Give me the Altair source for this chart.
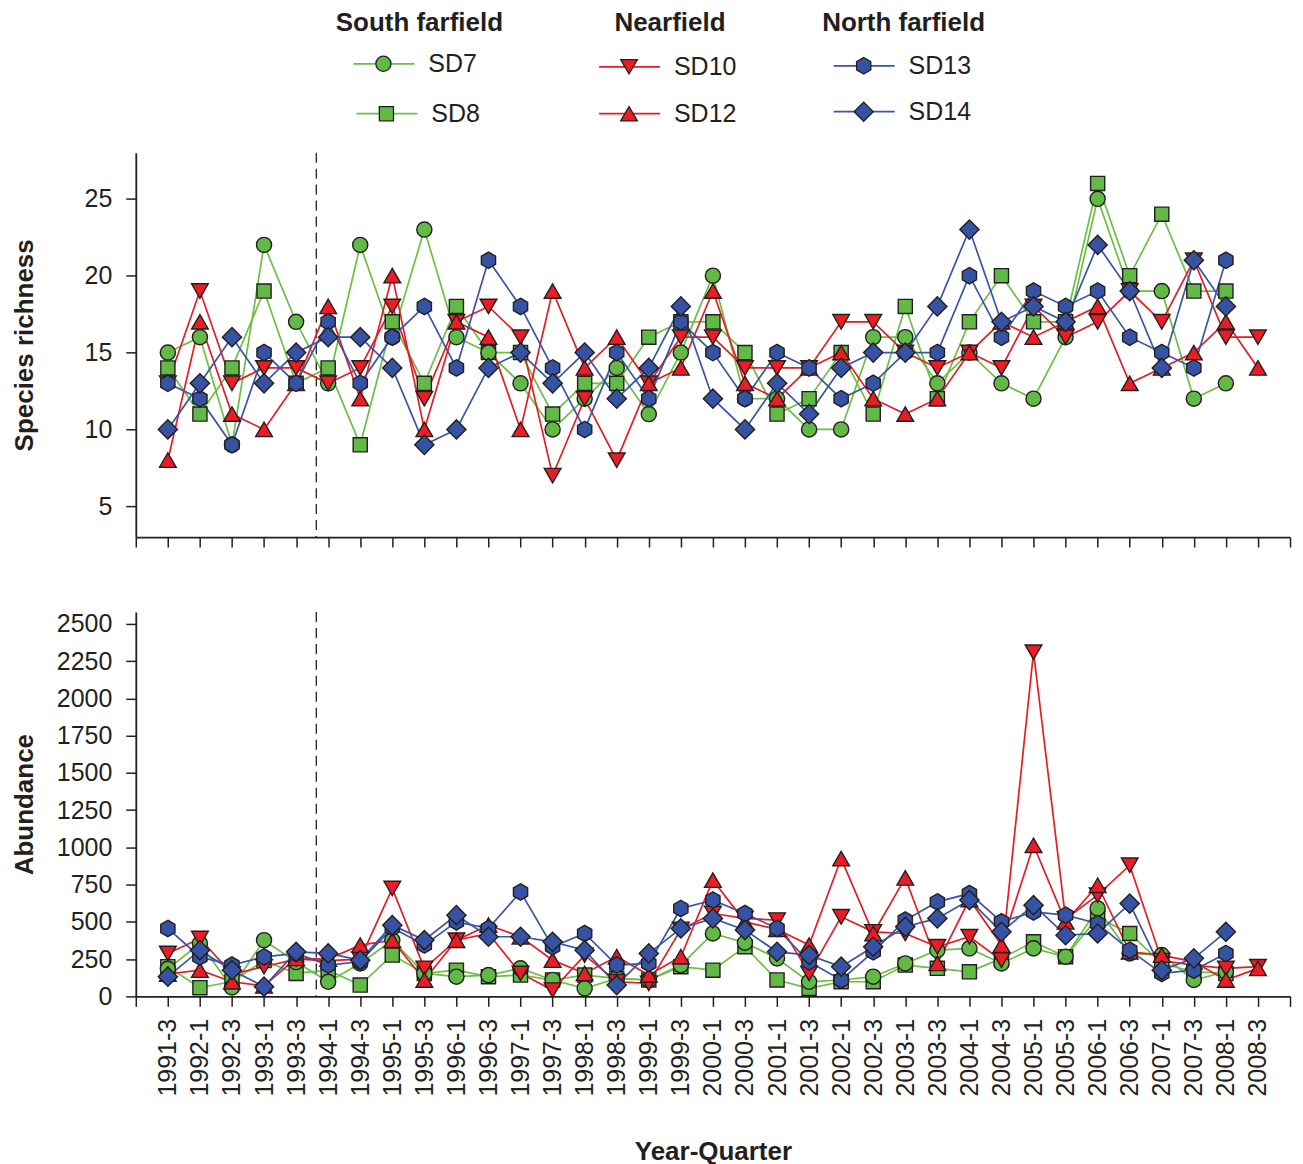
import json
import altair as alt
import pandas as pd

# ---------------- data ----------------
quarters = ["1991-3", "1992-1", "1992-3", "1993-1", "1993-3", "1994-1", "1994-3",
            "1995-1", "1995-3", "1996-1", "1996-3", "1997-1", "1997-3", "1998-1",
            "1998-3", "1999-1", "1999-3", "2000-1", "2000-3", "2001-1", "2001-3",
            "2002-1", "2002-3", "2003-1", "2003-3", "2004-1", "2004-3", "2005-1",
            "2005-3", "2006-1", "2006-3", "2007-1", "2007-3", "2008-1", "2008-3"]

series = ["SD7", "SD8", "SD10", "SD12", "SD13", "SD14"]
groups = ["South farfield", "Nearfield", "North farfield"]
series_group = [0, 0, 1, 1, 2, 2]
series_row = [0, 1, 0, 1, 0, 1]

rich_SD7 = [15, 16, 9, 22, 17, 13, 22, 16, 23, 16, 15, 13, 10, 12, 14, 11, 15, 20, 12, 12,
            10, 10, 16, 16, 13, 15, 13, 12, 16, 25, 19, 19, 12, 13, None]
rich_SD8 = [14, 11, 14, 19, 13, 14, 9, 17, 13, 18, 15, 15, 11, 13, 13, 16, 17, 17, 15, 11,
            12, 15, 11, 18, 12, 17, 20, 17, 17, 26, 20, 24, 19, 19, None]
rich_SD10 = [13, 19, 13, 14, 14, 13, 14, 18, 12, 17, 18, 16, 7, 12, 8, 13, 16, 16, 14, 14,
             14, 17, 17, 15, 14, 15, 14, 18, 16, 17, 19, 17, 21, 16, 16]
rich_SD12 = [8, 17, 11, 10, 13, 18, 12, 20, 10, 17, 16, 10, 19, 14, 16, 13, 14, 19, 13, 12,
             14, 15, 12, 11, 12, 15, 17, 16, 17, 18, 13, 14, 15, 17, 14]
rich_SD13 = [13, 12, 9, 15, 13, 17, 13, 16, 18, 14, 21, 18, 14, 10, 15, 12, 17, 15, 12, 15,
             14, 12, 13, 15, 15, 20, 16, 19, 18, 19, 16, 15, 14, 21, None]
rich_SD14 = [10, 13, 16, 13, 15, 16, 16, 14, 9, 10, 14, 15, 13, 15, 12, 14, 18, 12, 10, 13,
             11, 14, 15, 15, 18, 23, 17, 18, 17, 22, 19, 14, 21, 18, None]

abun_SD7 = [185, 355, 60, 377, 230, 98, 221, 377, 154, 132, 143, 188, 110, 54, 120, 110, 210,
            422, 360, 255, 98, 110, 132, 221, 310, 322, 221, 322, 266, 590, 288, 277, 110, 165, None]
abun_SD8 = [199, 58, 100, 240, 154, 176, 76, 277, 154, 176, 132, 143, 110, 143, 121, 110, 199,
            176, 333, 110, 54, 98, 98, 210, 188, 165, 255, 366, 266, 530, 422, 220, 165, 154, None]
abun_SD10 = [288, 388, 150, 199, 250, 240, 250, 724, 188, 377, 422, 154, 42, 277, 98, 87, 450,
             556, 523, 512, 154, 534, 433, 422, 333, 400, 243, 2310, 520, 679, 880, 240, 210, 188, 199]
abun_SD12 = [150, 176, 98, 70, 255, 250, 344, 377, 110, 377, 478, 400, 243, 154, 266, 143, 266,
             780, 500, 450, 344, 925, 422, 795, 221, 650, 344, 1014, 500, 746, 299, 277, 232, 110, 188]
abun_SD13 = [456, 265, 210, 265, 288, 210, 232, 460, 344, 500, 456, 701, 333, 422, 210, 221, 590,
             646, 556, 456, 232, 110, 299, 512, 634, 690, 500, 567, 545, 489, 310, 154, 176, 288, None]
abun_SD14 = [132, 310, 176, 65, 299, 288, 243, 478, 378, 545, 400, 400, 366, 310, 76, 288, 456,
             523, 445, 299, 277, 199, 333, 467, 523, 646, 433, 612, 411, 422, 623, 176, 255, 433, None]

survey_break = 4.63  # dashed separator position (in quarter-index units)

richness = [rich_SD7, rich_SD8, rich_SD10, rich_SD12, rich_SD13, rich_SD14]
abundance = [abun_SD7, abun_SD8, abun_SD10, abun_SD12, abun_SD13, abun_SD14]

# ---------------- styles ----------------
line_colors = ["#6cbe45", "#6cbe45", "#e31e26", "#e31e26", "#3a55a5", "#3a55a5"]
fill_colors = ["#63b946", "#63b946", "#ec1c24", "#ec1c24", "#3552a3", "#3552a3"]
hexagon = "M0,-1L0.866,-0.5L0.866,0.5L0,1L-0.866,0.5L-0.866,-0.5Z"
shapes = ["circle", "square", "triangle-down", "triangle-up", hexagon, "diamond"]
sizes = [270, 235, 340, 340, 310, 430]
legend_sizes = [230, 200, 280, 280, 270, 370]
draw_order = [1, 0, 2, 3, 4, 5]
INK = "#231f20"
FONT = "Liberation Sans"

W = 1156
H = 385


def long_frame(arrays):
    rows = []
    for s, arr, z in zip(series, arrays, draw_order):
        for i, v in enumerate(arr):
            if v is not None:
                rows.append({"idx": i, "quarter": quarters[i], "series": s, "value": v, "z": z})
    return pd.DataFrame(rows)


color_scale = alt.Scale(domain=series, range=line_colors)
fill_scale = alt.Scale(domain=series, range=fill_colors)
shape_scale = alt.Scale(domain=series, range=shapes)
size_scale = alt.Scale(type="ordinal", domain=series, range=sizes)
legend_size_scale = alt.Scale(type="ordinal", domain=series, range=legend_sizes)
x_scale = alt.Scale(domain=[-1, 35], nice=False, zero=False)

label_expr = "(" + json.dumps(quarters) + ")[datum.value] || ''"
x_ticks = list(range(-1, 36))


def panel(df, y_domain, y_ticks, y_title, bottom):
    if bottom:
        x_axis = alt.Axis(values=x_ticks, tickCount=len(x_ticks) + 5, labelExpr=label_expr,
                          labelAngle=270, labelOverlap=False, labelFlush=False,
                          labelBound=False, labelPadding=12, tickSize=10, grid=False,
                          title="Year-Quarter", titleY=155, titleBaseline="middle")
    else:
        x_axis = alt.Axis(values=x_ticks, tickCount=len(x_ticks) + 5, labels=False,
                          tickSize=10, grid=False, title=None)
    x = alt.X("idx:Q", scale=x_scale, axis=x_axis)
    y = alt.Y("value:Q", scale=alt.Scale(domain=y_domain, nice=False, zero=False),
              axis=alt.Axis(values=y_ticks, tickCount=len(y_ticks) + 2, format="d",
                            grid=False, tickSize=10, labelPadding=14, labelFlush=False,
                            labelOverlap=False, title=y_title, titleX=-103, titleY=H / 2,
                            titleAngle=270, titleAlign="center", titleBaseline="alphabetic"))
    lines = alt.Chart(df).mark_line(strokeWidth=1.7).encode(
        x=x, y=y,
        color=alt.Color("series:N", scale=color_scale, legend=None),
        order=alt.Order("idx:Q"),
    )
    points = alt.Chart(df).mark_point(filled=True, opacity=1, stroke=INK, strokeWidth=1.4).encode(
        x="idx:Q", y="value:Q",
        shape=alt.Shape("series:N", scale=shape_scale, legend=None),
        fill=alt.Fill("series:N", scale=fill_scale, legend=None),
        size=alt.Size("series:N", scale=size_scale, legend=None),
        order=alt.Order("z:Q"),
    )
    brk = alt.Chart(pd.DataFrame({"idx": [survey_break]})).mark_rule(
        color=INK, strokeWidth=1.3, strokeDash=[10, 6]
    ).encode(x="idx:Q", y=alt.value(0), y2=alt.value(H))
    return alt.layer(brk, lines, points).properties(width=W, height=H)


top = panel(long_frame(richness), [3, 28], [5, 10, 15, 20, 25], "Species richness", False)
bottom = panel(long_frame(abundance), [0, 2580], list(range(0, 2501, 250)), "Abundance", True)

# ---------------- legend panel ----------------
LEG_H = 77
group_sym_x = [248, 494, 729]
group_head_x = [284, 535, 769]
row_y = [[63, 113], [66, 113], [65, 111]]
leg_rows = []
for k, s in enumerate(series):
    g = series_group[k]
    r = series_row[k]
    sx = group_sym_x[g] + (3 if (g == 0 and r == 1) else 0)
    leg_rows.append({"series": s, "sx": sx, "x1": sx - 30, "x2": sx + 31,
                     "tx": sx + 45, "y": row_y[g][r]})
leg_df = pd.DataFrame(leg_rows)
head_df = pd.DataFrame({"name": groups, "hx": group_head_x, "hy": [22, 22, 22]})

lx = alt.Scale(domain=[0, W], nice=False, zero=False)
ly = alt.Scale(domain=[0, LEG_H], nice=False, zero=False, reverse=True)

heads = alt.Chart(head_df).mark_text(font=FONT, fontSize=26, fontWeight="bold", color=INK,
                                     align="center", baseline="middle").encode(
    x=alt.X("hx:Q", scale=lx, axis=None), y=alt.Y("hy:Q", scale=ly, axis=None), text="name:N")
leg_lines = alt.Chart(leg_df).mark_rule(strokeWidth=1.7).encode(
    x=alt.X("x1:Q", scale=lx, axis=None), x2="x2:Q", y=alt.Y("y:Q", scale=ly, axis=None),
    color=alt.Color("series:N", scale=color_scale, legend=None))
leg_syms = alt.Chart(leg_df).mark_point(filled=True, opacity=1, stroke=INK, strokeWidth=1.3).encode(
    x=alt.X("sx:Q", scale=lx, axis=None), y=alt.Y("y:Q", scale=ly, axis=None),
    shape=alt.Shape("series:N", scale=shape_scale, legend=None),
    fill=alt.Fill("series:N", scale=fill_scale, legend=None),
    size=alt.Size("series:N", scale=legend_size_scale, legend=None))
leg_text = alt.Chart(leg_df).mark_text(font=FONT, fontSize=25, color=INK, align="left",
                                       baseline="middle").encode(
    x=alt.X("tx:Q", scale=lx, axis=None), y=alt.Y("y:Q", scale=ly, axis=None), text="series:N")
anchor = alt.Chart(pd.DataFrame({"ax": [-136], "ay": [0]})).mark_point(
    filled=True, size=0, opacity=0).encode(
    x=alt.X("ax:Q", scale=lx, axis=None), y=alt.Y("ay:Q", scale=ly, axis=None))

legend = alt.layer(anchor, heads, leg_lines, leg_syms, leg_text).properties(width=W, height=LEG_H)

chart = alt.vconcat(legend, top, bottom, spacing=75, bounds="flush").properties(
    padding={"left": 0, "top": 0, "right": 0, "bottom": 0}
).resolve_scale(
    x="independent", y="independent"
).configure_view(stroke=None).configure_axis(
    domainColor=INK, domainWidth=1.8, tickColor=INK, tickWidth=1.5,
    labelFont=FONT, labelFontSize=25, labelColor=INK,
    titleFont=FONT, titleFontSize=26, titleFontWeight="bold", titleColor=INK,
)

chart.save("out.html", embed_options={"renderer": "svg", "actions": False})
